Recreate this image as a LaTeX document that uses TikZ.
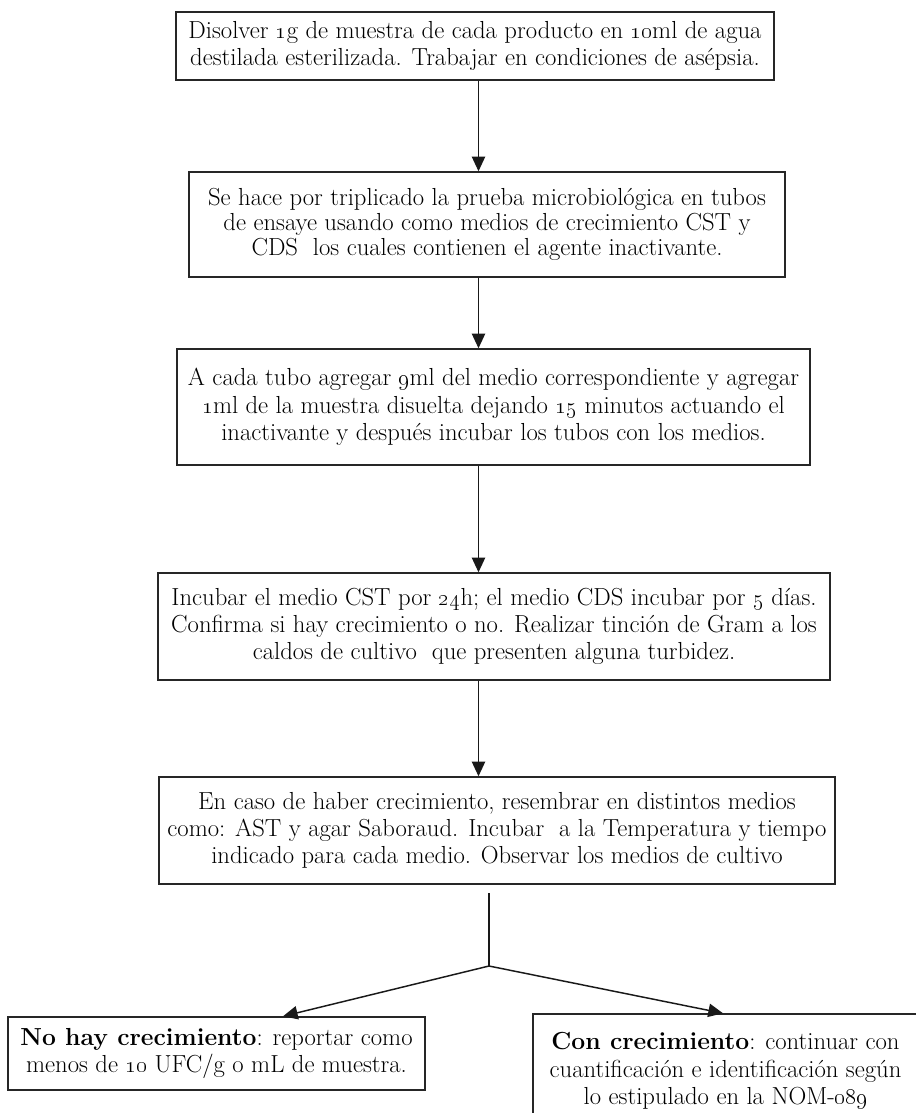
\documentclass[tikz,border=0pt]{standalone}
\usetikzlibrary{arrows.meta}
\newcommand{\osn}[1]{\oldstylenums{#1}}
\begin{document}
\begin{tikzpicture}[x=0.75pt,y=-0.75pt,
  box/.style={draw=black!85, line width=1.1pt, inner sep=0pt, align=center,
    font=\fontsize{18.5}{20.5}\selectfont, text=black},
  arr/.style={draw=black!90, line width=1.1pt, -{Triangle[length=11pt,width=10pt]}},
  link/.style={draw=black!90, line width=1.1pt}]
\useasboundingbox (0,0) rectangle (916,1113);
\fill[white] (0,0) rectangle (916,1113);

% process steps
\node[box, minimum width=448.5pt, minimum height=51pt] (b1) at (475,46)
  {Disolver \osn{1}g de muestra de cada producto en \osn{10}ml de agua\\
   destilada esterilizada. Trabajar en condiciones de asépsia.};
\node[box, minimum width=447pt, minimum height=78.75pt,
      font=\fontsize{18.5}{18.5}\selectfont] (b2) at (487,224.5)
  {Se hace por triplicado la prueba microbiológica en tubos\\
   de ensaye usando como medios de crecimiento CST y\\
   CDS\ \ los cuales contienen el agente inactivante.};
\node[box, minimum width=474.75pt, minimum height=87pt] (b3) at (493.5,407)
  {A cada tubo agregar \osn{9}ml del medio correspondiente y agregar\\
   \osn{1}ml de la muestra disuelta dejando \osn{15} minutos actuando el\\
   inactivante y después incubar los tubos con los medios.};
\node[box, minimum width=504pt, minimum height=80.25pt] (b4) at (494,626.5)
  {Incubar el medio CST por \osn{24}h; el medio CDS incubar por \osn{5} días.\\
   Confirma si hay crecimiento o no. Realizar tinción de Gram a los\\
   caldos de cultivo\ \ que presenten alguna turbidez.};
\node[box, minimum width=507pt, minimum height=80.25pt] (b5) at (497,830.5)
  {En caso de haber crecimiento, resembrar en distintos medios\\
   como: AST y agar Saboraud. Incubar\ \ a la Temperatura y tiempo\\
   indicado para cada medio. Observar los medios de cultivo};

% outcomes
\node[box, minimum width=312.75pt, minimum height=54.75pt] (b6) at (216.5,1053.5)
  {\textbf{No hay crecimiento}: reportar como\\
   menos de \osn{10} UFC/g o mL de muestra.};
\node[box, minimum width=288.75pt, minimum height=85.5pt] (b7) at (725.5,1071)
  {\textbf{Con crecimiento}: continuar con\\
   cuantificación e identificación según\\
   lo estipulado en la NOM-\osn{089}};

% connectors
\coordinate (ax) at (478.5,0);
\draw[arr] (b1.south -| ax) -- (b2.north -| ax);
\draw[arr] (b2.south -| ax) -- (b3.north -| ax);
\draw[arr] (b3.south -| ax) -- (b4.north -| ax);
\draw[arr] (b4.south -| ax) -- (b5.north -| ax);

\coordinate (forktop) at (489,893);
\coordinate (fork) at (489,966);
\coordinate (lx) at (283,0);
\coordinate (rx) at (723,0);
\draw[link] (forktop) -- (fork);
\draw[arr] (fork) -- (b6.north -| lx);
\draw[arr] (fork) -- (b7.north -| rx);
\end{tikzpicture}
\end{document}
